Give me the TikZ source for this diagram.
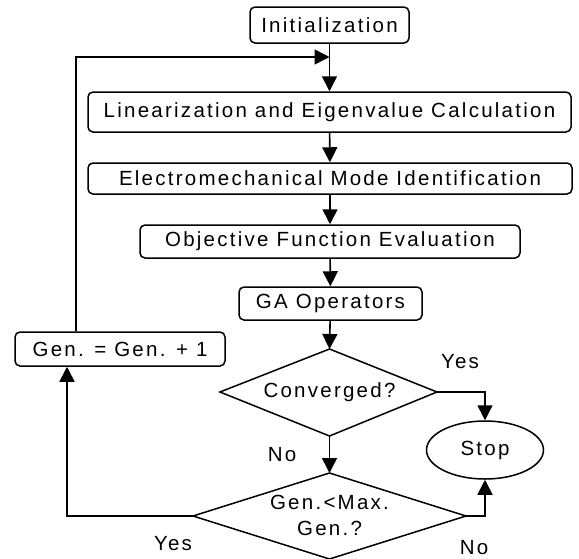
\documentclass[tikz,border=0pt]{standalone}
\usepackage{fontspec}
\setmainfont{Liberation Sans}[LetterSpace=11]
\usetikzlibrary{shapes.geometric,arrows.meta}
\begin{document}
\begin{tikzpicture}[x=1pt,y=-1pt,
  every node/.style={font=\fontsize{20.5}{26}\selectfont, inner sep=0pt},
  stepbox/.style={draw, rounded corners=5pt, line width=1.5pt, anchor=center},
  decision/.style={line width=1.5pt, line join=miter},
  lbl/.style={anchor=center},
  arr/.style={line width=1.6pt, -{Triangle[length=15pt,width=15pt]}},
  plain/.style={line width=1.6pt}]
\useasboundingbox (0,0) rectangle (579,558);
\node[stepbox, minimum width=159pt, minimum height=36pt] (init) at (329.5,25) {Initialization};
\node[stepbox, minimum width=483pt, minimum height=40pt] (lin) at (329.5,112) {Linearization and Eigenvalue Calculation};
\node[stepbox, minimum width=484pt, minimum height=31pt] (elec) at (330,178.5) {Electromechanical Mode Identification};
\node[stepbox, minimum width=380pt, minimum height=33pt] (obj) at (330,241.5) {Objective Function Evaluation};
\node[stepbox, minimum width=183pt, minimum height=33pt] (ga) at (330.5,303.5) {GA Operators};
\node[stepbox, minimum width=210pt, minimum height=34pt] (gen) at (120,349) {Gen. = Gen. + 1};
% decision 1
\coordinate (d1n) at (329.5,349);
\coordinate (d1e) at (437,392);
\coordinate (d1s) at (329.5,436);
\coordinate (d1w) at (220,392);
\draw[decision] (d1n) -- (d1e) -- (d1s) -- (d1w) -- cycle;
\node (d1) at (329.5,392) {Converged?};
% decision 2
\coordinate (d2n) at (329.5,473);
\coordinate (d2e) at (466,516);
\coordinate (d2s) at (329.5,559);
\coordinate (d2w) at (193,516);
\draw[decision] (d2n) -- (d2e) -- (d2s) -- (d2w) -- cycle;
\node[align=center] (d2) at (329.5,515) {Gen.<Max.\\Gen.?};
\node[draw, ellipse, line width=1.5pt, minimum width=117pt, minimum height=58pt] (stop) at (485,450) {Stop};
\coordinate (j) at (329.5,57);
\coordinate (fbtop) at (76,57);
\coordinate (retx) at (67,516);
\node[lbl] (yes1) at (460,362) {Yes};
\node[lbl] (no1) at (282,455) {No};
\node[lbl] (yes2) at (173,544) {Yes};
\node[lbl] (no2) at (474,548) {No};
\draw[arr] (init) -- (lin);
\draw[arr] (lin) -- (elec);
\draw[arr] (elec) -- (obj);
\draw[arr] (obj) -- (ga);
\draw[arr] (ga) -- (d1n);
\draw[arr] (d1s) -- (d2n);
\draw[arr] (d1e) -| (stop.north);
\draw[arr] (d2e) -| (stop.south);
\draw[arr] (d2w) -- (retx) -- (gen.south -| retx);
\draw[arr] (gen.north -| fbtop) -- (fbtop) -- (j);
\end{tikzpicture}
\end{document}
